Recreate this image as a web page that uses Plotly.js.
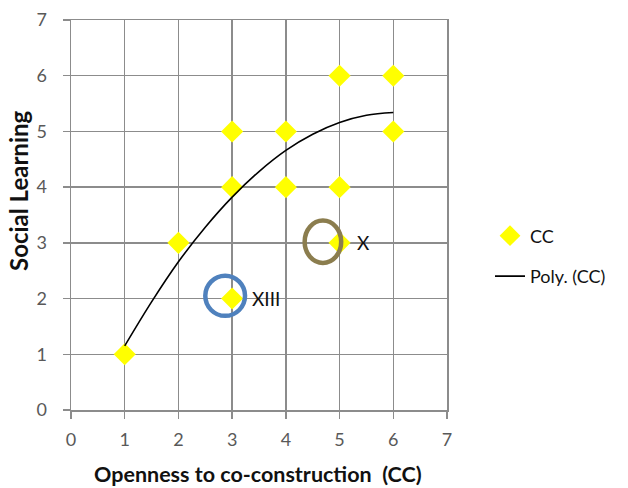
<!DOCTYPE html>
<html>
<head>
<meta charset="utf-8">
<script src="https://cdn.plot.ly/plotly-3.0.1.min.js"></script>
<style>html,body{margin:0;padding:0;background:#fff;}#chart{width:628px;height:488px;}</style>
</head>
<body>
<div id="chart"></div>
<script>
// Scatter data (CC)
const ccX = [1, 2, 3, 3, 3, 4, 4, 5, 5, 5, 6, 6];
const ccY = [1, 3, 4, 5, 2, 5, 4, 6, 4, 3, 6, 5];

// Polynomial trendline
const polyX = [1, 1.5, 2, 2.5, 3, 3.5, 4, 4.5, 5, 5.5, 6];
const polyY = [1.15, 1.94, 2.66, 3.28, 3.82, 4.28, 4.66, 4.95, 5.16, 5.29, 5.34];

// Highlight circles and their labels
const ringNames = ["XIII", "X"];
const ringX = [2.87, 4.69];
const ringY = [2.05, 3.02];
const ringRx = [0.37, 0.34];
const ringRy = [0.36, 0.38];
const ringColors = ["#4F81BD", "#8B7D4E"];
const labelX = [3.34, 5.28];
const labelY = [2.0, 3.0];

// Axis titles
const xTitle = "Openness to co-construction  (CC)";
const yTitle = "Social Learning";

const font = "Lato, 'Open Sans', sans-serif";

const traces = [
  {
    x: ccX, y: ccY, type: "scatter", mode: "markers", name: "CC", legendgroup: "a",
    marker: {symbol: "diamond", size: 17, color: "#FFFF00", line: {width: 0}}
  },
  {
    x: polyX, y: polyY, type: "scatter", mode: "lines", name: "Poly. (CC)", legendgroup: "b",
    line: {color: "#000000", width: 1.6, shape: "spline"}
  }
];

const shapes = ringX.map((cx, i) => ({
  type: "circle", xref: "x", yref: "y",
  x0: cx - ringRx[i], x1: cx + ringRx[i],
  y0: ringY[i] - ringRy[i], y1: ringY[i] + ringRy[i],
  line: {color: ringColors[i], width: 4.5}
}));

const W = 628, H = 488, mL = 71, mR = 181, mT = 20, mB = 78;
const pw = W - mL - mR, ph = H - mT - mB;

const annotations = ringNames.map((t, i) => ({
  x: labelX[i], y: labelY[i], xref: "x", yref: "y", text: t, showarrow: false,
  xanchor: "left", yanchor: "middle", font: {family: font, size: 19, color: "#111"}
}));
annotations.push({
  x: (258 - mL) / pw, y: (H - mB - 474) / ph, xref: "paper", yref: "paper", text: "<b>" + xTitle + "</b>", showarrow: false,
  xanchor: "center", yanchor: "middle", borderpad: 0, font: {family: font, size: 21.5, color: "#111"}
});
annotations.push({
  x: (18 - mL) / pw, y: (H - mB - 191) / ph, xref: "paper", yref: "paper", text: "<b>" + yTitle + "</b>", showarrow: false,
  textangle: -90, xanchor: "center", yanchor: "middle", borderpad: 0, font: {family: font, size: 24, color: "#111"}
});

const layout = {
  width: W, height: H,
  margin: {l: mL, r: mR, t: mT, b: mB},
  paper_bgcolor: "#fff", plot_bgcolor: "#fff",
  showlegend: true,
  legend: {x: (490 - mL) / pw, xanchor: "left", y: (H - mB - 256) / ph, yanchor: "middle",
           font: {family: font, size: 18, color: "#111"}, tracegroupgap: 14},
  xaxis: {
    range: [0, 7], dtick: 1, tick0: 0, showgrid: true, gridcolor: "#8c8c8c", gridwidth: 1.5,
    zeroline: false, showline: true, mirror: true, linecolor: "#8c8c8c", linewidth: 1.5,
    ticks: "outside", ticklen: 7, tickcolor: "#8c8c8c", tickwidth: 1.5, ticklabelstandoff: 6,
    tickfont: {family: font, size: 18, color: "#595959"}
  },
  yaxis: {
    range: [0, 7], dtick: 1, tick0: 0, showgrid: true, gridcolor: "#8c8c8c", gridwidth: 1.5,
    zeroline: false, showline: true, mirror: true, linecolor: "#8c8c8c", linewidth: 1.5,
    ticks: "outside", ticklen: 7, tickcolor: "#8c8c8c", tickwidth: 1.5, ticklabelstandoff: 12,
    tickfont: {family: font, size: 18, color: "#595959"}
  },
  shapes: shapes,
  annotations: annotations
};

Plotly.newPlot("chart", traces, layout, {displayModeBar: false, staticPlot: true});
</script>
</body>
</html>
